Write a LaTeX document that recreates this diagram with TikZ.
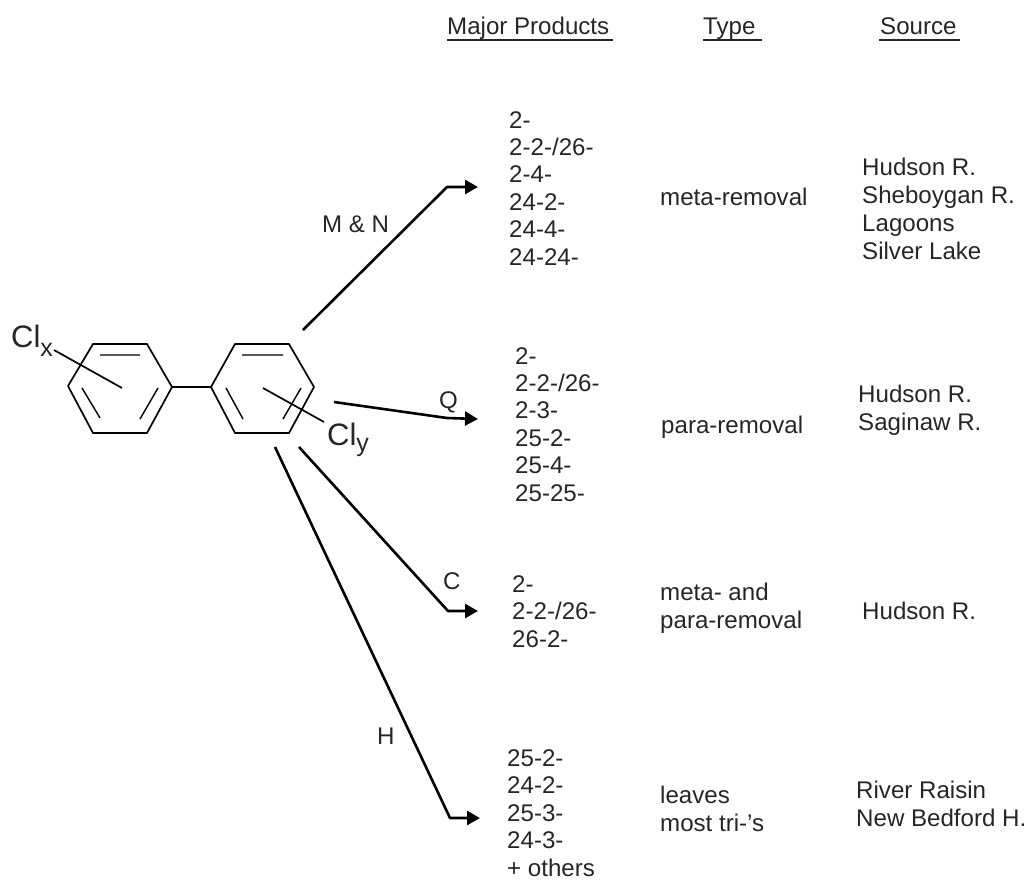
\documentclass[tikz,border=0pt]{standalone}
\usepackage{fontspec}
\setmainfont{Liberation Sans}
\usetikzlibrary{arrows.meta}
\tikzset{
  x=1pt,y=-1pt,
  bond/.style={line width=1.7pt,line join=round},
  thinbond/.style={line width=1.4pt},
  route/.style={line width=2.6pt,line join=round,-{Triangle[length=13pt,width=14pt]}},
  lbl/.style={inner sep=0pt,font=\fontsize{24.1}{27.4}\selectfont,align=left,anchor=base west,text=black!85},
  srcl/.style={lbl,font=\fontsize{24.1}{28}\selectfont},
  head/.style={lbl},
  cl/.style={inner sep=0pt,font=\fontsize{31}{34}\selectfont,anchor=base west,text=black!85},
  hline/.style={line width=1.2pt,black!85}
}
\begin{document}
\begin{tikzpicture}
\useasboundingbox (0,0) rectangle (1031,879);
% left ring
\coordinate (la) at (68,386);\coordinate (lb) at (93,344);\coordinate (lc) at (147,344);
\coordinate (ld) at (172,387);\coordinate (le) at (147,433);\coordinate (lf) at (93,433);
\draw[bond] (la)--(lb)--(lc)--(ld)--(le)--(lf)--cycle;
\draw[thinbond] (100,355)--(140,355) (82,388)--(100,418) (158,388)--(140,419);
% right ring
\coordinate (ra) at (211,387);\coordinate (rb) at (235,344);\coordinate (rc) at (289,344);
\coordinate (rd) at (314,387);\coordinate (re) at (289,433);\coordinate (rf) at (235,433);
\draw[bond] (ra)--(rb)--(rc)--(rd)--(re)--(rf)--cycle;
\draw[thinbond] (242,355)--(283,355) (226,388)--(243,419) (301,388)--(283,419);
\draw[thinbond] (ld)--(ra);
% substituents
\node[cl] (clx) at (11,347) {Cl\raisebox{-9pt}{\fontsize{25}{25}\selectfont x}};
\node[cl] (cly) at (327,445) {Cl\raisebox{-6pt}{\fontsize{25}{25}\selectfont y}};
\coordinate (clxe) at (54,350);\coordinate (clxi) at (122,388);
\coordinate (clye) at (324,422);\coordinate (clyi) at (263,388);
\draw[bond] (clxe)--(clxi);
\draw[bond] (clyi)--(clye);
% headers
\node[head] (h1) at (447,34) {Major Products};
\node[head] (h2) at (703,34) {Type};
\node[head] (h3) at (880,34) {Source};
\coordinate (u1a) at (447,40);\coordinate (u1b) at (613,40);
\coordinate (u2a) at (703,40);\coordinate (u2b) at (762,40);
\coordinate (u3a) at (879,40);\coordinate (u3b) at (960,40);
\draw[hline] (u1a)--(u1b);
\draw[hline] (u2a)--(u2b);
\draw[hline] (u3a)--(u3b);
% products
\node[lbl] (p1) at (509,265) {2-\\2-2-/26-\\2-4-\\24-2-\\24-4-\\24-24-};
\node[lbl] (p2) at (515,501) {2-\\2-2-/26-\\2-3-\\25-2-\\25-4-\\25-25-};
\node[lbl] (p3) at (512,647) {2-\\2-2-/26-\\26-2-};
\node[lbl] (p4) at (507,876) {25-2-\\24-2-\\25-3-\\24-3-\\+ others};
% types
\node[lbl] (t1) at (660,205) {meta-removal};
\node[lbl] (t2) at (661,433) {para-removal};
\node[lbl] (t3) at (660,628) {meta- and\\para-removal};
\node[lbl] (t4) at (660,831) {leaves\\most tri-'s};
% sources
\node[srcl] (s1) at (862,259) {Hudson R.\\Sheboygan R.\\Lagoons\\Silver Lake};
\node[srcl] (s2) at (858,430) {Hudson R.\\Saginaw R.};
\node[srcl] (s3) at (862,619) {Hudson R.};
\node[srcl] (s4) at (856,826) {River Raisin\\New Bedford H.};
% routes
\coordinate (a1) at (303,330);\coordinate (a2) at (447,187);\coordinate (a3) at (478,187);
\coordinate (b1) at (334,402);\coordinate (b2) at (447,418);\coordinate (b3) at (478,419);
\coordinate (c1) at (299,447);\coordinate (c2) at (448,611);\coordinate (c3) at (478,611);
\coordinate (d1) at (275,447);\coordinate (d2) at (450,818);\coordinate (d3) at (480,818);
\draw[route] (a1)--(a2)--(a3);
\draw[route] (b1)--(b2)--(b3);
\draw[route] (c1)--(c2)--(c3);
\draw[route] (d1)--(d2)--(d3);
\node[lbl] (mn) at (322,232) {M \& N};
\node[lbl] (q) at (439,408) {Q};
\node[lbl] (c) at (443,589) {C};
\node[lbl] (hh) at (377,744) {H};
\end{tikzpicture}
\end{document}
